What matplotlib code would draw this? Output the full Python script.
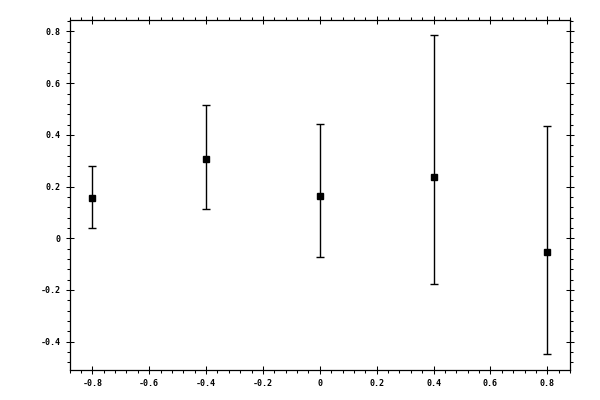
import numpy as np
import matplotlib
matplotlib.use("Agg")
import matplotlib.pyplot as plt
from matplotlib.ticker import MultipleLocator

# values
x = [-0.8, -0.4, 0.0, 0.4, 0.8]
y = [0.157, 0.308, 0.164, 0.238, -0.053]
err_lo = [0.119, 0.194, 0.236, 0.417, 0.395]
err_hi = [0.122, 0.208, 0.279, 0.548, 0.489]

plt.rcParams['axes.unicode_minus'] = False
plt.rcParams['font.family'] = 'DejaVu Sans Mono'
plt.rcParams['font.weight'] = 'bold'

fig = plt.figure(figsize=(6, 4), dpi=100)
ax = fig.add_axes([0.116, 0.075, 0.834, 0.876])

ax.errorbar(x, y, yerr=[err_lo, err_hi], fmt='s', color='black',
            markersize=5, elinewidth=1, capsize=3, capthick=1)

ax.set_xlim(-0.88, 0.88)
ax.set_ylim(-0.51, 0.846)

ax.xaxis.set_major_locator(MultipleLocator(0.2))
ax.xaxis.set_minor_locator(MultipleLocator(0.04))
ax.yaxis.set_major_locator(MultipleLocator(0.2))
ax.yaxis.set_minor_locator(MultipleLocator(0.04))

def fmt(v, pos):
    if abs(v) < 1e-9:
        return "0"
    return "%.1f" % v
ax.xaxis.set_major_formatter(plt.FuncFormatter(fmt))
ax.yaxis.set_major_formatter(plt.FuncFormatter(fmt))

ax.tick_params(which='major', direction='inout', length=5.8, width=0.75,
               labelsize=6, pad=3.5, top=True, right=True)
ax.tick_params(which='minor', direction='out', length=2.4, width=0.75,
               top=True, right=True)
for s in ax.spines.values():
    s.set_linewidth(0.9)

plt.savefig("out.png", dpi=100)
plt.close()
